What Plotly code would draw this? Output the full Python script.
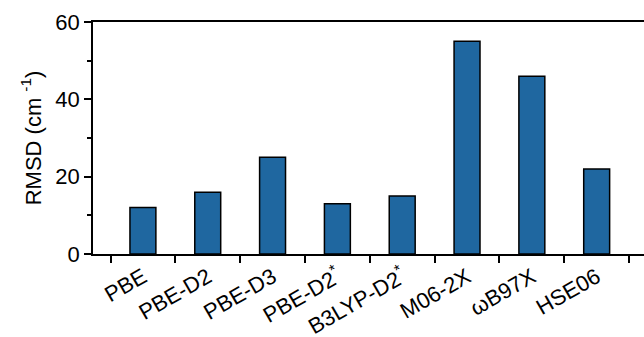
import plotly.graph_objects as go

methods = ["PBE", "PBE-D2", "PBE-D3", "PBE-D2<sup>*</sup>", "B3LYP-D2<sup>*</sup>", "M06-2X", "ωB97X", "HSE06"]
rmsd = [12, 16, 25, 13, 15, 55, 46, 22]

fig = go.Figure(go.Bar(
    x=methods, y=rmsd, width=0.4,
    marker=dict(color="#1f67a0", line=dict(color="black", width=1.5)),
))

font = dict(family="Arial, Liberation Sans", size=22, color="black")
fig.update_layout(
    width=644, height=337,
    margin=dict(l=93, r=0, t=22, b=83),
    paper_bgcolor="white", plot_bgcolor="white",
    font=font, showlegend=False,
    xaxis=dict(
        range=[-0.77, 7.73], tickson="boundaries", ticks="outside", ticklen=7, tickwidth=1.5,
        tickcolor="black", showline=True, linecolor="black", linewidth=1.5, mirror=True,
        tickangle=-30, showgrid=False, tickfont=font, automargin=False,
    ),
    yaxis=dict(
        range=[0, 60], tickvals=[0, 20, 40, 60], ticks="outside", ticklen=7, tickwidth=1.5,
        tickcolor="black", showline=True, linecolor="black", linewidth=1.5, showgrid=False,
        zeroline=False, tickfont=font, automargin=False,
        minor=dict(tickvals=[10, 30, 50], ticks="outside", ticklen=4, tickwidth=1.5, tickcolor="black"),
        title=dict(text="RMSD (cm <sup>-1</sup>)", font=font, standoff=8),
    ),
)

fig.write_html("out.html")
